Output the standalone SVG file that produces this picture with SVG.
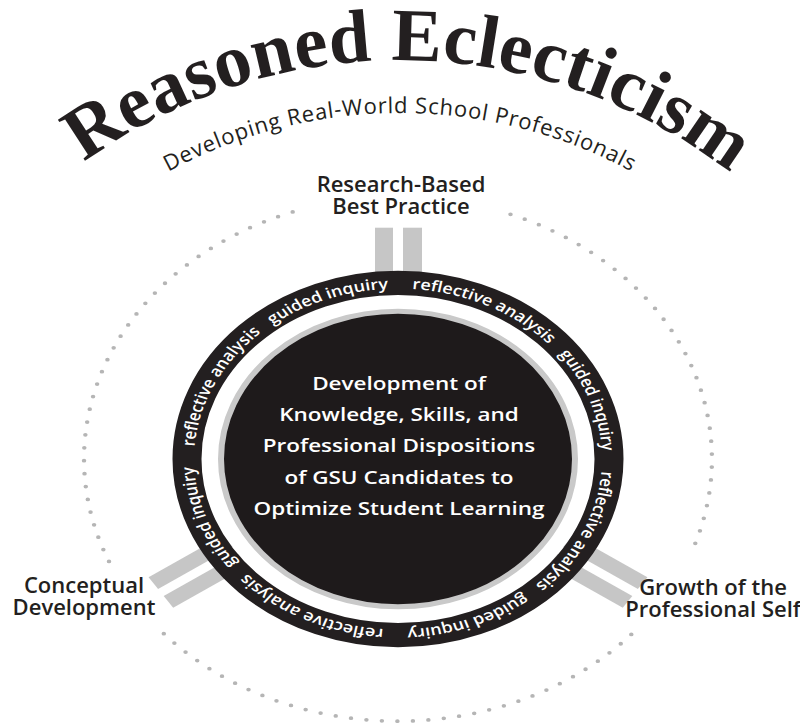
<svg xmlns="http://www.w3.org/2000/svg" width="800" height="723" viewBox="0 0 800 723">
  <style>
    .title { font-family: "Liberation Serif", "Times New Roman", serif; font-weight: 700; font-size: 75px; fill: #231f20; letter-spacing: 0.2px; }
    .subtitle { font-family: "Open Sans", "Liberation Sans", sans-serif; font-size: 22px; fill: #231f20; letter-spacing: 0.8px; }
    .label { font-family: "Open Sans", "Liberation Sans", sans-serif; font-weight: 600; font-size: 22px; fill: #231f20; text-anchor: middle; }
    .ring-text { font-family: "Open Sans", "Liberation Sans", sans-serif; font-weight: 600; font-size: 18px; fill: #ffffff; }
    .core-text { font-family: "Open Sans", "Liberation Sans", sans-serif; font-weight: 600; font-size: 22.5px; fill: #ffffff; text-anchor: middle; }
    .bar { fill: #c6c6c6; }
    .dots { fill: none; stroke: #b5b5b5; stroke-width: 4.5; stroke-linecap: round; stroke-dasharray: 0 15.5; }
  </style>
  <defs>
    <!-- arcs for the curved headings -->
    <path id="title-arc" d="M -140,600 A 540,540 0 0,1 940,600"/>
    <path id="subtitle-arc" d="M -87,600 A 487,487 0 0,1 887,600"/>
    <!-- clockwise circle from 12 o'clock for the ring captions -->
    <path id="ring-arc" d="M 0,-204 A 204,204 0 1,1 0,204 A 204,204 0 1,1 0,-204"/>
  </defs>

  <!-- headings -->
  <g id="title">
    <text class="title" text-anchor="middle"><textPath href="#title-arc" startOffset="857">Reasoned Eclecticism</textPath></text>
    <text class="subtitle" text-anchor="middle"><textPath href="#subtitle-arc" startOffset="50%">Developing Real-World School Professionals</textPath></text>
  </g>

  <!-- dotted orbit, broken where the three labels sit -->
  <g id="orbit" class="dots" transform="translate(398,459) scale(1,0.835)">
    <path d="M 112.5,-293.1 A 314,314 0 0,1 293.1,112.5"/>
    <path d="M 233.3,210.1 A 314,314 0 0,1 -237.0,206.0"/>
    <path d="M -289.0,122.7 A 314,314 0 0,1 -91.8,-300.3"/>
  </g>

  <!-- paired grey bars joining each label to the ring -->
  <g id="connectors" class="bar" transform="translate(398,459) scale(1,0.835)">
    <g id="link-top">
      <rect x="-23" y="-277" width="18" height="80"/>
      <rect x="5" y="-277" width="19" height="80"/>
    </g>
    <g id="link-left" transform="rotate(-124)">
      <rect x="-22" y="-286" width="17" height="90"/>
      <rect x="5" y="-286" width="17" height="90"/>
    </g>
    <g id="link-right" transform="rotate(124)">
      <rect x="-22" y="-286" width="17" height="90"/>
      <rect x="5" y="-286" width="17" height="90"/>
    </g>
  </g>

  <!-- central disc with its captioned ring -->
  <g id="core" transform="translate(398,459) scale(1,0.835)">
    <circle r="211" fill="none" stroke="#231f20" stroke-width="29"/>
    <circle r="177" fill="#1e1a1b" stroke="#c9c9c9" stroke-width="6"/>
    <text class="ring-text">
      <textPath href="#ring-arc" startOffset="14">reflective analysis</textPath>
    </text>
    <text class="ring-text">
      <textPath href="#ring-arc" startOffset="185">guided inquiry</textPath>
    </text>
    <text class="ring-text">
      <textPath href="#ring-arc" startOffset="335">reflective analysis</textPath>
    </text>
    <text class="ring-text">
      <textPath href="#ring-arc" startOffset="506">guided inquiry</textPath>
    </text>
    <text class="ring-text">
      <textPath href="#ring-arc" startOffset="655">reflective analysis</textPath>
    </text>
    <text class="ring-text">
      <textPath href="#ring-arc" startOffset="826">guided inquiry</textPath>
    </text>
    <text class="ring-text">
      <textPath href="#ring-arc" startOffset="976">reflective analysis</textPath>
    </text>
    <text class="ring-text">
      <textPath href="#ring-arc" startOffset="1146">guided inquiry</textPath>
    </text>
    <text class="core-text" x="1" y="-82.6">Development of</text>
    <text class="core-text" x="1" y="-45.2">Knowledge, Skills, and</text>
    <text class="core-text" x="1" y="-7.8">Professional Dispositions</text>
    <text class="core-text" x="1" y="29.6">of GSU Candidates to</text>
    <text class="core-text" x="1" y="67">Optimize Student Learning</text>
  </g>

  <!-- outer labels -->
  <g id="research-based-best-practice">
    <text class="label" x="401" y="192">Research-Based</text>
    <text class="label" x="401" y="213.5">Best Practice</text>
  </g>
  <g id="conceptual-development">
    <text class="label" x="84" y="593">Conceptual</text>
    <text class="label" x="84" y="615">Development</text>
  </g>
  <g id="growth-professional-self">
    <text class="label" x="713" y="595">Growth of the</text>
    <text class="label" x="713" y="617">Professional Self</text>
  </g>
</svg>
